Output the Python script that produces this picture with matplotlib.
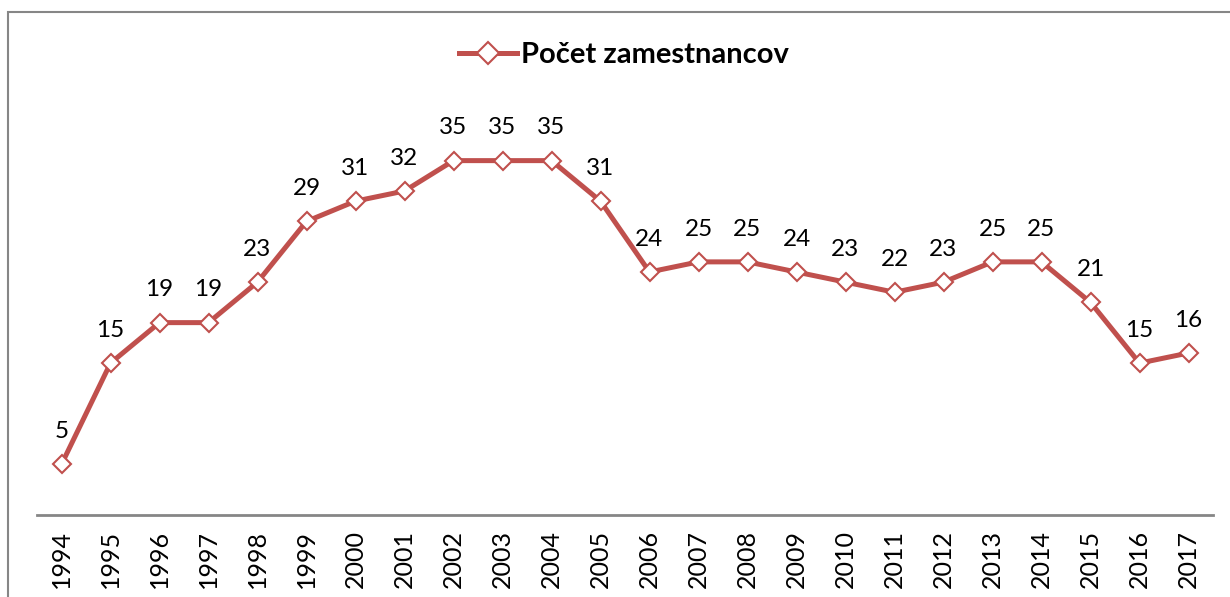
import matplotlib
matplotlib.use("Agg")
import matplotlib.pyplot as plt
from matplotlib.patches import Rectangle

plt.rcParams['font.family'] = ['Lato', 'DejaVu Sans']

# data
years = ['1994', '1995', '1996', '1997', '1998', '1999', '2000', '2001',
         '2002', '2003', '2004', '2005', '2006', '2007', '2008', '2009',
         '2010', '2011', '2012', '2013', '2014', '2015', '2016', '2017']
employees = [5, 15, 19, 19, 23, 29, 31, 32, 35, 35, 35, 31,
             24, 25, 25, 24, 23, 22, 23, 25, 25, 21, 15, 16]
series_name = 'Počet zamestnancov'

red = '#C0504D'
W, H = 1230, 597

fig = plt.figure(figsize=(W / 100, H / 100), dpi=100)
ax = fig.add_axes([37 / W, 82 / H, (1213 - 37) / W, 405 / H])

x = list(range(len(years)))
ax.plot(x, employees, color=red, lw=3.6, marker='D', ms=9.5,
        mfc='white', mec=red, mew=1.5, label=series_name, zorder=3,
        solid_joinstyle='round')

for xi, v in zip(x, employees):
    ax.annotate(str(v), (xi, v), xytext=(0, 16), textcoords='offset points',
                ha='center', va='bottom', fontsize=17.5, color='black')

ax.set_xlim(-0.5, len(years) - 0.5)
ax.set_ylim(0, 40)
ax.set_xticks(x)
ax.set_xticklabels(years, rotation=90, fontsize=18)
ax.tick_params(axis='x', length=0, pad=11)
ax.set_yticks([])
for s in ['left', 'right', 'top']:
    ax.spines[s].set_visible(False)
ax.spines['bottom'].set_color('#868686')
ax.spines['bottom'].set_linewidth(2)

leg = fig.legend(loc='center', bbox_to_anchor=(624 / W, 1 - 55 / H),
                 frameon=False, prop={'weight': 'bold', 'size': 21},
                 handlelength=2.0, handletextpad=0.15, markerscale=1.15)

# chart border (left and top visible)
fig.patches.append(Rectangle((7.5 / W, -0.1), 2, 1.1 - 11.5 / H,
                             transform=fig.transFigure, fill=False,
                             edgecolor='#868686', lw=1.5))

fig.savefig('out.png', dpi=100, facecolor='white')
